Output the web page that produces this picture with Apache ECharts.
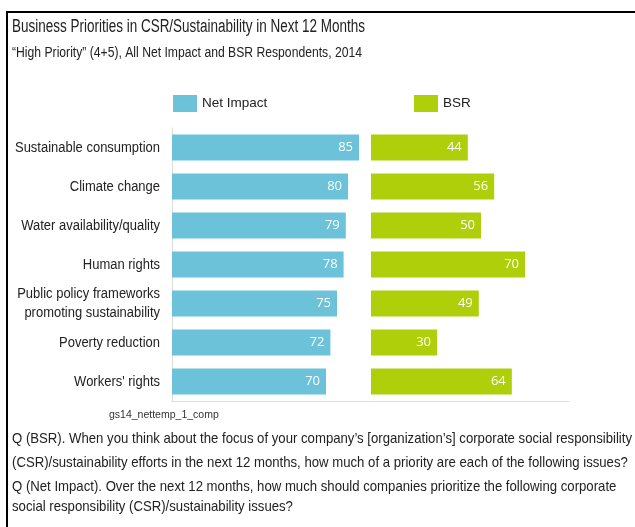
<!DOCTYPE html>
<html><head><meta charset="utf-8">
<script src="https://cdn.jsdelivr.net/npm/echarts@6/dist/echarts.min.js"></script>
<style>html,body{margin:0;padding:0;background:#fff}#c{width:635px;height:527px}</style>
</head><body><div id="c"></div>
<script>
const categories = ['Sustainable consumption','Climate change','Water availability/quality','Human rights','Public policy frameworks\npromoting sustainability','Poverty reduction',"Workers' rights"];
const netImpact = [85,80,79,78,75,72,70];
const bsr = [44,56,50,70,49,30,64];
const titleText = 'Business Priorities in CSR/Sustainability in Next 12 Months';
const subtitleText = '\u201cHigh Priority\u201d (4+5), All Net Impact and BSR Respondents, 2014';
const sourceText = 'gs14_nettemp_1_comp';
const noteLines = [
  "Q (BSR). When you think about the focus of your company\u2019s [organization\u2019s] corporate social responsibility",
  "(CSR)/sustainability efforts in the next 12 months, how much of a priority are each of the following issues?",
  "Q (Net Impact). Over the next 12 months, how much should companies prioritize the following corporate",
  "social responsibility (CSR)/sustainability issues?"
];
const noteY = [439, 463, 487, 507];

const SANS = '"Liberation Sans", Arial, sans-serif';
const BLUE = '#6cc3d9', GREEN = '#aecf0a';

// horizontal squeeze helper (reference uses a condensed face)
const mctx = document.createElement('canvas').getContext('2d');
function widthOf(text, size){ mctx.font = size + 'px ' + SANS; return mctx.measureText(text).width; }
function squeeze(text, size, target){ return target / widthOf(text, size); }

const titleScale = squeeze(titleText, 18, 353);
const subScale = squeeze(subtitleText, 15.5, 350);
const noteScale = squeeze(noteLines[0], 15, 620);
const catScale = squeeze(categories[0], 15.5, 145);

const chart = echarts.init(document.getElementById('c'), null, {renderer:'canvas'});
const valLabel = {show:true, position:'insideRight', distance:6, color:'#fff', fontFamily:'"Open Sans", sans-serif', fontSize:13};
chart.setOption({
  animation:false,
  legend:[
    {data:['Net Impact'], left:173, top:95, padding:0, icon:'rect', itemWidth:24, itemHeight:17, itemGap:5, textStyle:{fontFamily:SANS, fontSize:13.5, color:'#222'}},
    {data:['BSR'], left:414, top:95, padding:0, icon:'rect', itemWidth:24, itemHeight:17, itemGap:5, textStyle:{fontFamily:SANS, fontSize:13.5, color:'#222'}}
  ],
  grid:[
    {left:172, top:128, width:198, height:273, containLabel:false, outerBoundsMode:'none'},
    {left:371, top:128, width:198, height:273, containLabel:false, outerBoundsMode:'none'}
  ],
  xAxis:[
    {gridIndex:0, type:'value', min:0, max:90, axisLabel:{show:false}, splitLine:{show:false}, axisTick:{show:false}, axisLine:{show:true, lineStyle:{color:'#dddddd', width:1}}},
    {gridIndex:1, type:'value', min:0, max:90, axisLabel:{show:false}, splitLine:{show:false}, axisTick:{show:false}, axisLine:{show:true, lineStyle:{color:'#dddddd', width:1}}}
  ],
  yAxis:[
    {gridIndex:0, type:'category', data:categories, inverse:true, axisTick:{show:false}, axisLine:{show:true, lineStyle:{color:'#dddddd'}}, axisLabel:{show:false}},
    {gridIndex:1, type:'category', data:categories, inverse:true, axisTick:{show:false}, axisLine:{show:false}, axisLabel:{show:false}}
  ],
  series:[
    {name:'Net Impact', type:'bar', xAxisIndex:0, yAxisIndex:0, data:netImpact, barWidth:26, itemStyle:{color:BLUE}, label:valLabel},
    {name:'BSR', type:'bar', xAxisIndex:1, yAxisIndex:1, data:bsr, barWidth:26, itemStyle:{color:GREEN}, label:valLabel}
  ]
});

// category labels placed at the axis' own band centres, squeezed like the reference face
const catGraphics = categories.map((c, i) => {
  const y = chart.convertToPixel({yAxisIndex:0}, i);
  return {type:'text', x:160, y:y, scaleX:catScale, style:{text:c, fontFamily:SANS, fontSize:15.5, lineHeight:19, fill:'#222', align:'right', verticalAlign:'middle'}};
});

chart.setOption({
  graphic:[
    {type:'rect', shape:{x:7, y:12, width:700, height:600}, style:{fill:'none', stroke:'#000', lineWidth:2}, silent:true},
    {type:'text', x:12, y:27, scaleX:titleScale, style:{text:titleText, fontFamily:SANS, fontSize:18, fill:'#222', verticalAlign:'middle'}},
    {type:'text', x:12, y:53, scaleX:subScale, style:{text:subtitleText, fontFamily:SANS, fontSize:15.5, fill:'#222', verticalAlign:'middle'}},
    {type:'text', x:109, y:415, style:{text:sourceText, fontFamily:SANS, fontSize:10.5, fill:'#333', verticalAlign:'middle'}}
  ].concat(catGraphics)
   .concat(noteLines.map((t,i)=>({type:'text', x:12, y:noteY[i], scaleX:noteScale, style:{text:t, fontFamily:SANS, fontSize:15, fill:'#222', verticalAlign:'middle'}})))
});
</script></body></html>
